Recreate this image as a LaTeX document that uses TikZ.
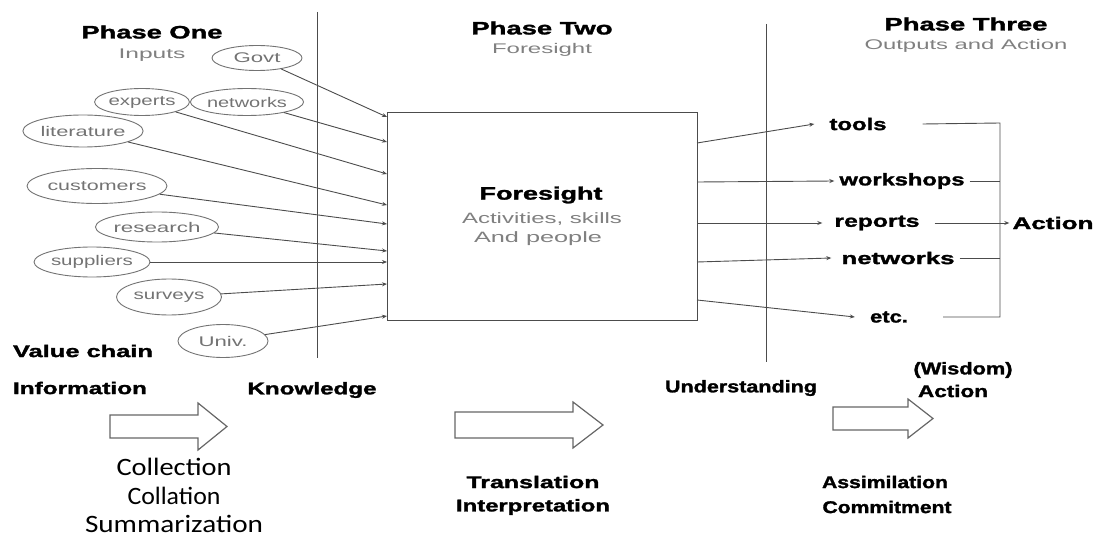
\documentclass[tikz,border=0pt]{standalone}
\usepackage{fontspec}
\usepackage{graphicx}
\setmainfont{Liberation Sans}
\newfontfamily\heavy[BoldFeatures={FakeBold=1.4}]{Liberation Sans}
\newfontfamily\calfont{Carlito}
\usetikzlibrary{shapes.geometric,arrows.meta}

% set a text at a given width by stretching it horizontally
\newsavebox\fitbox
\newcommand\fitw[2]{\sbox\fitbox{#2}\pgfmathsetmacro\fitr{#1/\the\wd\fitbox}\scalebox{\fitr}[1]{\usebox\fitbox}}

\tikzset{
  lab/.style={font=\fontsize{17}{20}\selectfont\heavy\bfseries, inner sep=0},
  head/.style={font=\fontsize{18}{20}\selectfont\heavy\bfseries, inner sep=0},
  sub/.style={font=\fontsize{14}{17}\selectfont, text=black!50, inner sep=0},
  cal/.style={font=\fontsize{25}{29}\selectfont\calfont, inner sep=0},
  src/.style n args={2}{ellipse, draw=black!55, line width=0.9pt,
      minimum width=#1, minimum height=#2, inner sep=0,
      font=\fontsize{14}{16}\selectfont, text=black!55},
  wire/.style={draw=black!70, line width=0.9pt},
  feed/.style={wire, -{Stealth[length=5pt,width=4pt]}},
  divider/.style={draw=black!70, line width=1pt},
  fat/.style={draw=black!60, line width=1.2pt, line join=miter},
}

\begin{document}
\begin{tikzpicture}[x=1pt,y=-1pt]
\useasboundingbox (0,0) rectangle (1095,540);

% phase dividers
\draw[divider] (317,12) -- (317,358);
\draw[divider] (766,24) -- (766,362);

% phase headings
\node[head] (p1) at (152,32) {\fitw{141pt}{Phase One}};
\node[sub] (p1s) at (152,55) {\fitw{67pt}{Inputs}};
\node[head] (p2) at (542,28) {\fitw{141pt}{Phase Two}};
\node[sub] (p2s) at (542,50) {\fitw{100pt}{Foresight}};
\node[head] (p3) at (966,24) {\fitw{163pt}{Phase Three}};
\node[sub] (p3s) at (966,46) {\fitw{203pt}{Outputs and Action}};

% central foresight box
\node[draw=black!70, line width=1pt, minimum width=310, minimum height=207, inner sep=0] (box) at (542,216.5) {};
\node[head] (fs) at (541,195) {\fitw{123pt}{Foresight}};
\node[sub, font=\fontsize{15}{17}\selectfont] (fs1) at (542,219) {\fitw{160pt}{Activities, skills}};
\node[sub, font=\fontsize{15}{17}\selectfont] (fs2) at (538,239) {\fitw{128pt}{And people}};

% input sources
\node[src={90}{25}]  (govt) at (257,58)  {\fitw{47pt}{Govt}};
\node[src={83}{27}]  (expe) at (142,102) {\fitw{67pt}{experts}};
\node[src={109}{27}] (netw) at (247,102) {\fitw{80pt}{networks}};
\node[src={107}{32}] (lite) at (83,131)  {\fitw{85pt}{literature}};
\node[src={117}{35}] (cust) at (97,186)  {\fitw{99pt}{customers}};
\node[src={97}{30}]  (rese) at (157,227) {\fitw{87pt}{research}};
\node[src={105}{30}] (supp) at (92,262)  {\fitw{82pt}{suppliers}};
\node[src={105}{36}] (surv) at (169,297) {\fitw{71pt}{surveys}};
\node[src={90}{33}]  (univ) at (223,341) {\fitw{49pt}{Univ.}};

% entry points on the box
\coordinate (i1) at (387,117);
\coordinate (i2) at (387,142);
\coordinate (i3) at (387,174);
\coordinate (i4) at (387,205);
\coordinate (i5) at (387,224);
\coordinate (i6) at (387,251);
\coordinate (i7) at (387,262);
\coordinate (i8) at (387,284);
\coordinate (i9) at (387,316);

\draw[feed] (govt) -- (i1);
\draw[feed] (netw) -- (i2);
\draw[feed] (expe) -- (i3);
\draw[feed] (lite) -- (i4);
\draw[feed] (cust) -- (i5);
\draw[feed] (rese) -- (i6);
\draw[feed] (supp) -- (i7);
\draw[feed] (surv) -- (i8);
\draw[feed] (univ) -- (i9);

% outputs
\node[lab] (tools) at (858,124) {\fitw{57pt}{tools}};
\node[lab] (work)  at (902,181) {\fitw{125pt}{workshops}};
\node[lab] (repo)  at (877,223) {\fitw{85pt}{reports}};
\node[lab] (nout)  at (898,258) {\fitw{113pt}{networks}};
\node[lab] (etc)   at (889,317) {\fitw{38pt}{etc.}};
\node[lab] (act)   at (1053,223) {\fitw{81pt}{Action}};

\coordinate (o1) at (697,143);
\coordinate (o2) at (697,182);
\coordinate (o3) at (697,223);
\coordinate (o4) at (697,262);
\coordinate (o5) at (697,300);

\draw[feed] (o1) -- ([xshift=-15pt]tools.west);
\draw[feed] (o2) -- ([xshift=-5pt]work.west);
\draw[feed] (o3) -- ([xshift=-12pt]repo.west);
\draw[feed] (o4) -- ([xshift=-10pt]nout.west);
\draw[feed] (o5) -- ([xshift=-15pt]etc.west);

% bracket gathering the outputs into action
\coordinate (b1) at (1000,123);
\coordinate (b5) at (1000,317);
\draw[wire] ([xshift=36pt]tools.east) -- (b1) -- (b5) -- ([xshift=35pt]etc.east);
\draw[wire] ([xshift=5pt]work.east) -- (work.east -| b1);
\draw[wire] ([xshift=5pt]nout.east) -- (nout.east -| b1);
\draw[feed] ([xshift=15pt]repo.east) -- ([xshift=-3pt]act.west);

% value chain
\node[lab] (vc)   at (83,351)  {\fitw{140pt}{Value chain}};
\node[lab] (info) at (80,388)  {\fitw{134pt}{Information}};
\node[lab] (know) at (312,390) {\fitw{129pt}{Knowledge}};
\node[lab] (und)  at (741,388) {\fitw{152pt}{Understanding}};
\node[lab] (wis)  at (963,370) {\fitw{99pt}{(Wisdom)}};
\node[lab] (wact) at (953,391) {\fitw{70pt}{Action}};

% transition arrows
\draw[fat] (110,415) -- (198,415) -- (198,403) -- (227,426.5) -- (198,450) -- (198,438) -- (110,438) -- cycle;
\draw[fat] (455,412) -- (573,412) -- (573,402) -- (603,425) -- (573,448) -- (573,438) -- (455,438) -- cycle;
\draw[fat] (833,407) -- (908,407) -- (908,399) -- (933,418.5) -- (908,438) -- (908,430) -- (833,430) -- cycle;

% transition labels
\node[cal] (c1) at (174,467) {\fitw{115pt}{Collection}};
\node[cal] (c2) at (174,496) {\fitw{93pt}{Collation}};
\node[cal] (c3) at (174,524) {\fitw{178pt}{Summarization}};
\node[lab] (t1) at (533,482) {\fitw{133pt}{Translation}};
\node[lab] (t2) at (533,507) {\fitw{154pt}{Interpretation}};
\node[lab] (a1) at (885,482) {\fitw{126pt}{Assimilation}};
\node[lab] (a2) at (887,507) {\fitw{129pt}{Commitment}};
\end{tikzpicture}
\end{document}
